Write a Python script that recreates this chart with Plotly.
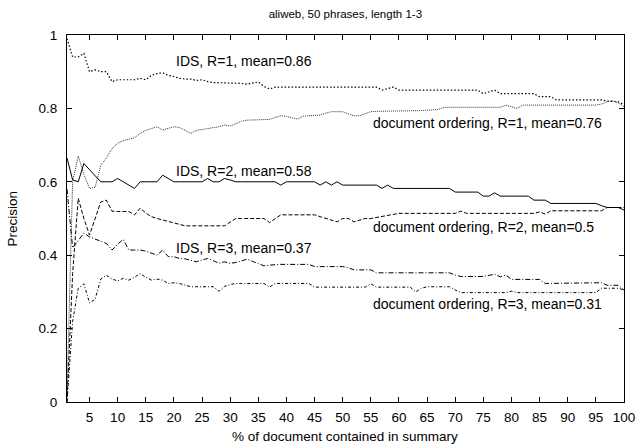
import plotly.graph_objects as go

pct = list(range(1, 101))

ids_r1 = [0.99, 0.94, 0.94, 0.95, 0.90, 0.905, 0.90, 0.90, 0.873, 0.878,
          0.878, 0.878, 0.878, 0.882, 0.878, 0.89, 0.895, 0.897, 0.89, 0.887,
          0.882, 0.88, 0.88, 0.876, 0.878, 0.873, 0.87, 0.87, 0.87, 0.868,
          0.868, 0.868, 0.866, 0.87, 0.872, 0.86, 0.853, 0.858, 0.858, 0.858,
          0.858, 0.858, 0.858, 0.858, 0.858, 0.858, 0.858, 0.858, 0.858, 0.858,
          0.858, 0.858, 0.858, 0.858, 0.858, 0.858, 0.85, 0.853, 0.858, 0.85,
          0.85, 0.85, 0.85, 0.85, 0.85, 0.85, 0.85, 0.85, 0.85, 0.85,
          0.85, 0.85, 0.85, 0.85, 0.84, 0.845, 0.85, 0.84, 0.84, 0.84,
          0.84, 0.84, 0.84, 0.84, 0.832, 0.832, 0.832, 0.823, 0.823, 0.823,
          0.823, 0.823, 0.823, 0.823, 0.823, 0.823, 0.82, 0.82, 0.818, 0.81]

doc_r1 = [0.02, 0.60, 0.67, 0.62, 0.582, 0.585, 0.645, 0.665, 0.69, 0.705,
          0.712, 0.716, 0.72, 0.732, 0.74, 0.745, 0.75, 0.741, 0.745, 0.75,
          0.748, 0.74, 0.732, 0.74, 0.742, 0.745, 0.746, 0.75, 0.755, 0.752,
          0.758, 0.765, 0.768, 0.768, 0.769, 0.77, 0.77, 0.775, 0.78, 0.778,
          0.775, 0.771, 0.779, 0.78, 0.781, 0.782, 0.787, 0.791, 0.791, 0.791,
          0.785, 0.78, 0.78, 0.785, 0.791, 0.792, 0.792, 0.792, 0.792, 0.792,
          0.792, 0.792, 0.793, 0.794, 0.795, 0.796, 0.797, 0.803, 0.803, 0.803,
          0.803, 0.803, 0.803, 0.803, 0.803, 0.803, 0.803, 0.803, 0.809, 0.805,
          0.80, 0.809, 0.809, 0.809, 0.809, 0.809, 0.809, 0.809, 0.809, 0.809,
          0.809, 0.809, 0.809, 0.809, 0.809, 0.812, 0.818, 0.821, 0.815, 0.805]

ids_r2 = [0.665, 0.605, 0.60, 0.65, 0.633, 0.617, 0.60, 0.60, 0.60, 0.609,
          0.60, 0.59, 0.582, 0.60, 0.60, 0.60, 0.60, 0.618, 0.609, 0.60,
          0.60, 0.60, 0.60, 0.60, 0.60, 0.609, 0.60, 0.60, 0.609, 0.605,
          0.60, 0.60, 0.60, 0.60, 0.60, 0.60, 0.60, 0.60, 0.591, 0.60,
          0.60, 0.60, 0.60, 0.60, 0.60, 0.591, 0.60, 0.591, 0.60, 0.591,
          0.591, 0.591, 0.591, 0.591, 0.591, 0.591, 0.582, 0.591, 0.582, 0.582,
          0.582, 0.582, 0.582, 0.582, 0.582, 0.582, 0.582, 0.582, 0.582, 0.572,
          0.572, 0.572, 0.572, 0.572, 0.561, 0.561, 0.57, 0.561, 0.561, 0.561,
          0.561, 0.561, 0.561, 0.55, 0.55, 0.55, 0.541, 0.541, 0.541, 0.541,
          0.541, 0.541, 0.541, 0.541, 0.541, 0.535, 0.53, 0.53, 0.53, 0.523]

doc_r2 = [0.0, 0.35, 0.555, 0.50, 0.455, 0.50, 0.545, 0.55, 0.52, 0.519,
          0.519, 0.519, 0.51, 0.528, 0.515, 0.505, 0.50, 0.496, 0.492, 0.49,
          0.485, 0.48, 0.48, 0.48, 0.48, 0.48, 0.48, 0.48, 0.48, 0.49,
          0.50, 0.50, 0.50, 0.50, 0.50, 0.50, 0.489, 0.50, 0.51, 0.51,
          0.51, 0.51, 0.51, 0.51, 0.51, 0.505, 0.50, 0.495, 0.491, 0.50,
          0.50, 0.491, 0.495, 0.50, 0.50, 0.503, 0.506, 0.509, 0.512, 0.514,
          0.514, 0.514, 0.514, 0.514, 0.514, 0.514, 0.514, 0.514, 0.514, 0.514,
          0.52, 0.514, 0.514, 0.514, 0.514, 0.514, 0.514, 0.514, 0.514, 0.514,
          0.514, 0.514, 0.514, 0.514, 0.518, 0.512, 0.521, 0.521, 0.521, 0.521,
          0.521, 0.521, 0.521, 0.521, 0.521, 0.521, 0.53, 0.53, 0.53, 0.53]

ids_r3 = [0.58, 0.42, 0.44, 0.46, 0.45, 0.444, 0.437, 0.432, 0.414, 0.43,
          0.443, 0.414, 0.414, 0.414, 0.411, 0.405, 0.40, 0.414, 0.396, 0.396,
          0.391, 0.39, 0.385, 0.382, 0.387, 0.391, 0.385, 0.378, 0.382, 0.378,
          0.38, 0.385, 0.389, 0.383, 0.377, 0.371, 0.373, 0.375, 0.375, 0.375,
          0.375, 0.375, 0.375, 0.375, 0.369, 0.369, 0.369, 0.369, 0.369, 0.369,
          0.366, 0.36, 0.36, 0.36, 0.36, 0.352, 0.352, 0.352, 0.352, 0.352,
          0.352, 0.352, 0.352, 0.352, 0.352, 0.352, 0.352, 0.352, 0.352, 0.346,
          0.342, 0.342, 0.342, 0.342, 0.342, 0.345, 0.348, 0.341, 0.346, 0.334,
          0.334, 0.334, 0.334, 0.334, 0.334, 0.323, 0.323, 0.323, 0.323, 0.323,
          0.323, 0.323, 0.323, 0.323, 0.323, 0.325, 0.318, 0.318, 0.318, 0.305]

doc_r3 = [0.0, 0.22, 0.31, 0.322, 0.27, 0.28, 0.335, 0.345, 0.335, 0.33,
          0.337, 0.332, 0.34, 0.35, 0.34, 0.332, 0.335, 0.332, 0.323, 0.325,
          0.323, 0.318, 0.314, 0.314, 0.314, 0.314, 0.314, 0.302, 0.315, 0.32,
          0.323, 0.323, 0.323, 0.323, 0.323, 0.323, 0.313, 0.323, 0.323, 0.323,
          0.323, 0.323, 0.323, 0.323, 0.313, 0.313, 0.313, 0.313, 0.313, 0.313,
          0.313, 0.313, 0.313, 0.313, 0.322, 0.313, 0.313, 0.313, 0.313, 0.313,
          0.313, 0.313, 0.30, 0.31, 0.314, 0.314, 0.314, 0.314, 0.314, 0.305,
          0.298, 0.298, 0.298, 0.298, 0.298, 0.298, 0.298, 0.298, 0.298, 0.302,
          0.298, 0.298, 0.298, 0.298, 0.298, 0.298, 0.298, 0.298, 0.298, 0.298,
          0.298, 0.298, 0.298, 0.298, 0.298, 0.31, 0.31, 0.31, 0.31, 0.305]

series_names = ["IDS, R=1", "document ordering, R=1", "IDS, R=2",
                "document ordering, R=2", "IDS, R=3", "document ordering, R=3"]
series_vals = [ids_r1, doc_r1, ids_r2, doc_r2, ids_r3, doc_r3]
series_means = ["0.86", "0.76", "0.58", "0.5", "0.37", "0.31"]
label_x = [20, 55.1, 20, 55.1, 20, 55.1]
label_y = [0.93, 0.76, 0.63, 0.478, 0.42, 0.267]

dashes = ["1.5px,2px", "1px,1px", "solid", "4px,2px", "5px,2px,1px,2px", "3px,2px,1px,2px"]
colors = ["#000000", "#333333", "#000000", "#000000", "#000000", "#000000"]
widths = [1.2, 1, 1, 1, 1, 1]

FONT = "Liberation Sans, Arial, Helvetica, sans-serif"

fig = go.Figure()
for name, vals, dash, col, w in zip(series_names, series_vals, dashes, colors, widths):
    fig.add_trace(go.Scatter(x=pct, y=vals, mode="lines", name=name,
                             line=dict(color=col, width=w, dash=dash)))

for name, m, lx, ly in zip(series_names, series_means, label_x, label_y):
    fig.add_annotation(x=lx, y=ly, xref="x", yref="y", text=f"{name}, mean={m}",
                       showarrow=False, xanchor="left", yanchor="middle",
                       font=dict(family=FONT, size=14, color="#000"))

# axis titles placed in paper coordinates
fig.add_annotation(x=0.499, y=-0.095, xref="paper", yref="paper",
                   text="% of document contained in summary", showarrow=False,
                   xanchor="center", yanchor="middle",
                   font=dict(family=FONT, size=13.5, color="#000"))
fig.add_annotation(x=-0.097, y=0.5, xref="paper", yref="paper",
                   text="Precision", showarrow=False, textangle=-90,
                   xanchor="center", yanchor="middle",
                   font=dict(family=FONT, size=13.5, color="#000"))

fig.update_layout(
    width=636, height=446,
    margin=dict(l=67, r=12, t=35, b=44),
    paper_bgcolor="white", plot_bgcolor="white",
    showlegend=False,
    font=dict(family=FONT, size=13.5, color="#000"),
    title=dict(text="aliweb, 50 phrases, length 1-3", x=0.543, xanchor="center",
               y=0.968, yanchor="middle", font=dict(family=FONT, size=11.5, color="#000")),
)
fig.update_xaxes(range=[1, 100], tickvals=list(range(5, 101, 5)),
                 ticks="inside", ticklen=5, tickcolor="#000", showline=True,
                 linecolor="#000", linewidth=1.2, mirror="ticks", showgrid=False,
                 zeroline=False, ticklabelstandoff=3, automargin=False)
fig.update_yaxes(range=[0, 1], tickvals=[0, 0.2, 0.4, 0.6, 0.8, 1],
                 ticktext=["0", "0.2", "0.4", "0.6", "0.8", "1"],
                 ticks="inside", ticklen=5, tickcolor="#000", showline=True,
                 linecolor="#000", linewidth=1.2, mirror="ticks", showgrid=False,
                 zeroline=False, ticklabelstandoff=6, automargin=False)

fig.write_html("out.html")
